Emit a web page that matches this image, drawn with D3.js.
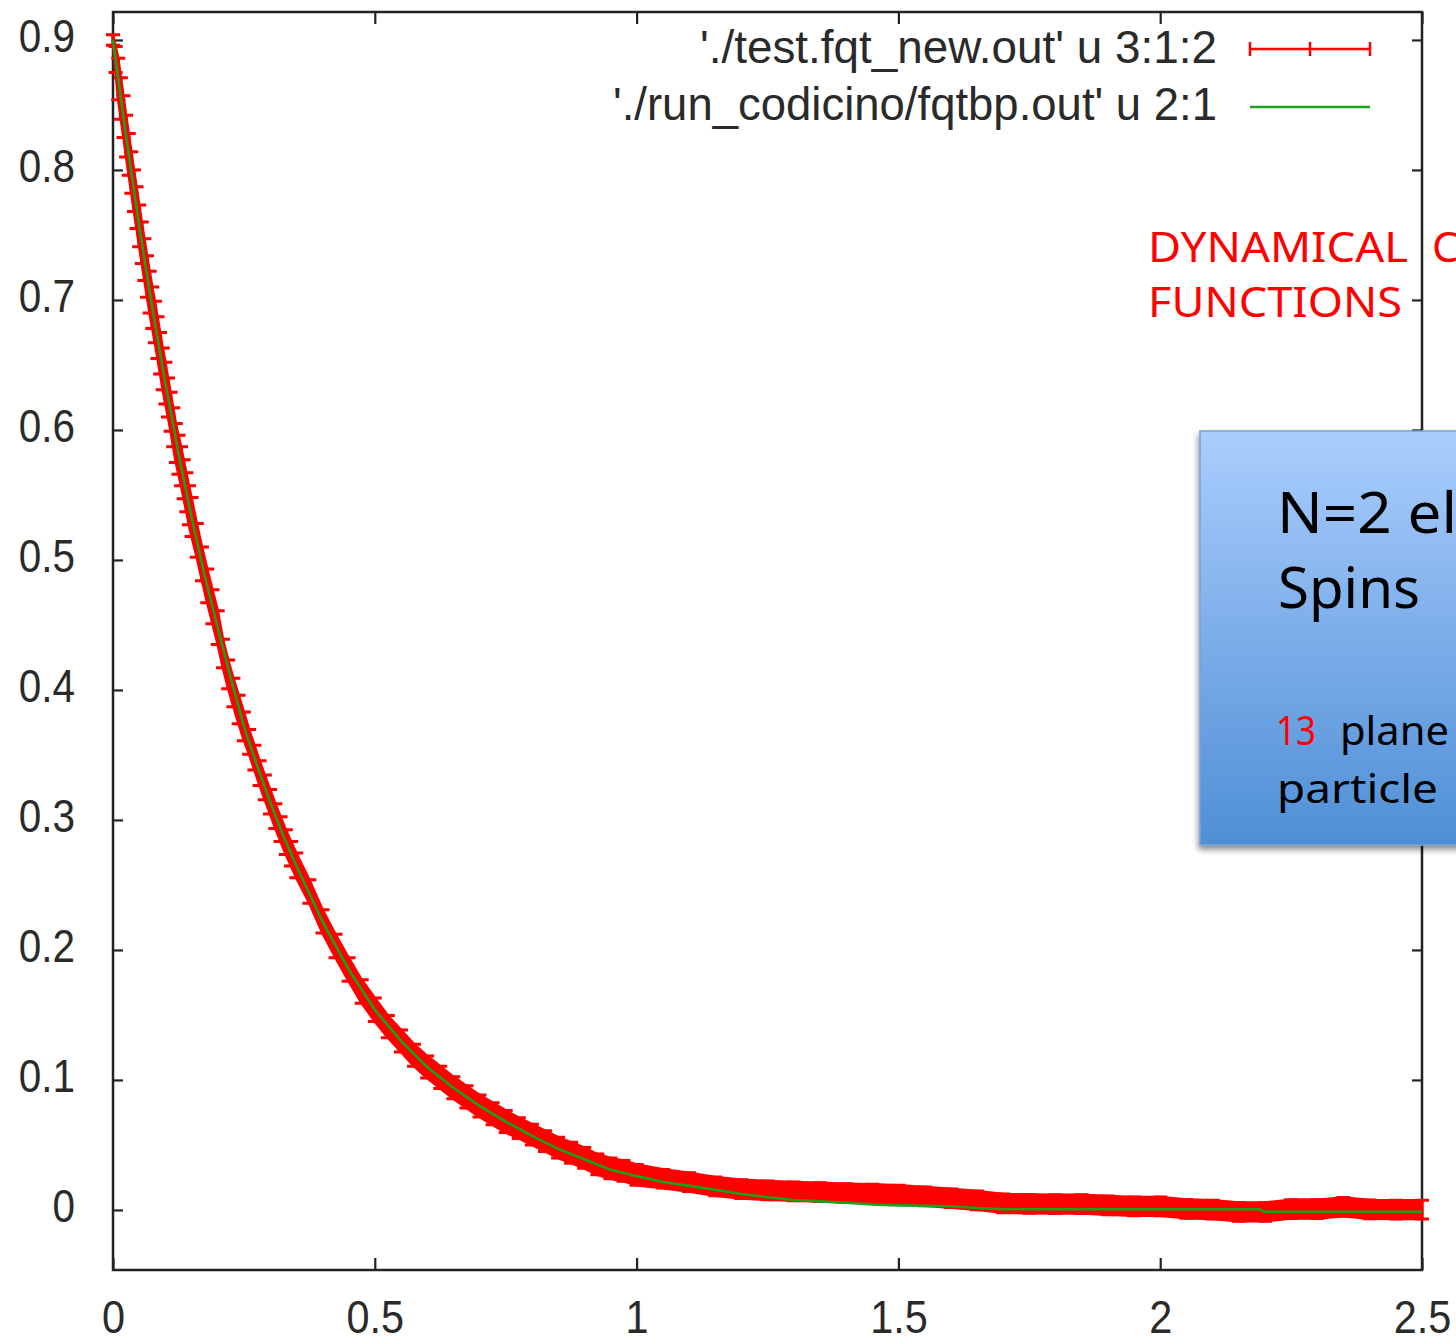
<!DOCTYPE html>
<html><head><meta charset="utf-8">
<script src="https://cdn.jsdelivr.net/npm/d3@7"></script>
<style>body{margin:0;background:#fff;overflow:hidden}svg{display:block}</style>
</head><body>
<script>
// ---------------- data ----------------
const xTicks = [0, 0.5, 1, 1.5, 2, 2.5];
const xTickLabels = ["0", "0.5", "1", "1.5", "2", "2.5"];
const yTicks = [0, 0.1, 0.2, 0.3, 0.4, 0.5, 0.6, 0.7, 0.8, 0.9];
const yTickLabels = ["0", "0.1", "0.2", "0.3", "0.4", "0.5", "0.6", "0.7", "0.8", "0.9"];
const legendLabels = ["'./test.fqt_new.out' u 3:1:2", "'./run_codicino/fqtbp.out' u 2:1"];

// red series: x (col 3), y (col 1), y error (col 2)
const redX = [0,0.005,0.01,0.015,0.02,0.025,0.03,0.035,0.04,0.045,
  0.05,0.055,0.06,0.065,0.07,0.075,0.08,0.085,0.09,0.095,
  0.10,0.105,0.11,0.115,0.12,0.125,0.13,0.135,0.14,0.145,0.15,
  0.16,0.17,0.18,0.19,0.20,0.21,0.22,0.23,0.24,0.25,
  0.26,0.27,0.28,0.29,0.30,0.31,0.32,0.33,0.34,0.35,
  0.375,0.40,0.425,0.45,0.475,0.50,0.525,0.55,0.575,0.60,
  0.625,0.65,0.675,0.70,0.725,0.75,0.775,0.80,0.825,0.85,
  0.875,0.90,0.925,0.95,0.975,1.00,
  1.05,1.10,1.15,1.20,1.25,1.30,1.35,1.40,1.45,1.50,
  1.55,1.60,1.65,1.70,1.75,1.80,1.85,1.90,1.95,2.00,
  2.05,2.10,2.15,2.20,2.25,2.30,2.35,2.40,2.45,2.50];
const redY = [0.900,0.885,0.870,0.855,0.841,0.826,0.812,0.798,0.784,0.771,
  0.757,0.744,0.731,0.718,0.706,0.694,0.683,0.671,0.659,0.647,
  0.636,0.625,0.614,0.602,0.590,0.581,0.572,0.562,0.552,0.542,0.533,
  0.515,0.497,0.480,0.464,0.448,0.428,0.412,0.398,0.385,0.372,
  0.360,0.348,0.336,0.325,0.314,0.303,0.293,0.283,0.274,0.265,
  0.245,0.222,0.203,0.185,0.168,0.154,0.141,0.130,0.119,0.110,
  0.102,0.094,0.087,0.080,0.074,0.068,0.063,0.058,0.053,0.048,
  0.044,0.040,0.035,0.032,0.030,0.027,
  0.0240,0.0214,0.0182,0.0160,0.0150,0.0143,0.0137,0.0130,0.0125,0.0118,
  0.0105,0.0090,0.0073,0.0051,0.0047,0.0045,0.0045,0.0035,0.0028,0.0028,
  0.0008,0.0003,-0.0015,-0.0015,0.0007,0.0007,0.0024,0.0005,0.0003,0.0003];
const redErr = [0.004,0.010,0.016,0.016,0.016,0.016,0.016,0.016,0.016,0.016,
  0.016,0.016,0.016,0.016,0.016,0.016,0.016,0.016,0.016,0.016,
  0.016,0.015,0.015,0.015,0.015,0.015,0.015,0.015,0.015,0.015,0.015,
  0.013,0.013,0.013,0.013,0.013,0.011,0.011,0.011,0.011,0.011,
  0.0095,0.0095,0.0095,0.0095,0.0095,0.0095,0.0095,0.0095,0.0095,0.0095,
  0.009,0.009,0.009,0.009,0.009,0.009,0.0085,0.0085,0.0085,0.0085,
  0.0085,0.0085,0.0085,0.0085,0.0085,0.0085,0.008,0.008,0.008,0.008,
  0.008,0.008,0.008,0.008,0.008,0.008,
  0.0072,0.0072,0.0072,0.0072,0.0072,0.0072,0.0072,0.0072,0.0072,0.0072,
  0.0072,0.0072,0.0072,0.0072,0.0072,0.0072,0.0072,0.0072,0.0072,0.0072,
  0.0072,0.0072,0.0072,0.0072,0.0072,0.0072,0.0072,0.0072,0.0072,0.0072];

// green series: x (col 2), y (col 1)
const greenX = [0,0.025,0.05,0.075,0.10,0.125,0.15,0.175,0.20,0.225,
  0.25,0.275,0.30,0.325,0.35,0.40,0.45,0.50,0.55,0.60,
  0.65,0.70,0.75,0.80,0.85,0.90,0.95,1.00,1.05,1.10,
  1.15,1.20,1.25,1.30,1.35,1.40,1.45,1.50,1.60,1.65,
  1.70,2.19,2.20,2.50];
const greenY = [0.900,0.826,0.757,0.694,0.636,0.582,0.533,0.488,0.448,0.409,
  0.372,0.342,0.314,0.288,0.265,0.222,0.185,0.154,0.130,0.110,
  0.094,0.080,0.068,0.057,0.047,0.039,0.031,0.026,0.0215,0.0185,
  0.0155,0.0122,0.0098,0.0077,0.0066,0.0055,0.0042,0.0035,0.0028,0.0015,
  0.0005,0.0005,-0.0015,-0.0015];

const noteLines1 = ["DYNAMICAL", "C", "FUNCTIONS"];
const boxLines = ["N=2 el", "Spins", "13", "plane", "particle"];

// ---------------- drawing ----------------
const W = 1456, H = 1342;
const L = 113, R = 1422, T = 12, B = 1270;
const svg = d3.select("body").append("svg").attr("width", W).attr("height", H);
const x = d3.scaleLinear().domain([0, 2.5]).range([L, R]);
const y = d3.scaleLinear().domain([-0.0462, 0.9215]).range([B, T]);
const tickFont = "'Liberation Sans', Arial, sans-serif";
const inkColor = "#222";

function styleAxis(g) {
  g.select(".domain").remove();
  g.selectAll(".tick line").attr("stroke", inkColor).attr("stroke-width", 2.2);
  g.selectAll("text").attr("font-family", tickFont).attr("font-size", 46).attr("fill", "#2a2a2a");
}
function condense(sel, k) {
  sel.each(function () {
    const w = this.getComputedTextLength();
    d3.select(this).attr("textLength", w * k).attr("lengthAdjust", "spacingAndGlyphs");
  });
}

const gx = svg.append("g").attr("transform", `translate(0,${B})`)
  .call(d3.axisBottom(x).tickValues(xTicks).tickFormat((d, i) => xTickLabels[i])
    .tickSizeInner(-12).tickSizeOuter(0).tickPadding(30));
styleAxis(gx);
condense(gx.selectAll("text"), 0.9);

const gy = svg.append("g").attr("transform", `translate(${L},0)`)
  .call(d3.axisLeft(y).tickValues(yTicks).tickFormat((d, i) => yTickLabels[i])
    .tickSizeInner(-10).tickSizeOuter(0).tickPadding(38));
styleAxis(gy);
gy.selectAll("text").attr("dy", "0.26em");
condense(gy.selectAll("text"), 0.88);

const gt = svg.append("g").attr("transform", `translate(0,${T})`)
  .call(d3.axisTop(x).tickValues(xTicks).tickFormat("").tickSizeInner(-12).tickSizeOuter(0));
styleAxis(gt);
const gr = svg.append("g").attr("transform", `translate(${R},0)`)
  .call(d3.axisRight(y).tickValues(yTicks).tickFormat("").tickSizeInner(-10).tickSizeOuter(0));
styleAxis(gr);

svg.append("rect").attr("x", L).attr("y", T).attr("width", R - L).attr("height", B - T)
  .attr("fill", "none").attr("stroke", inkColor).attr("stroke-width", 2.5);

// red error-bar series
const red = redX.map((d, i) => ({ x: d, y: redY[i], e: redErr[i] }));
svg.append("path").datum(red).attr("fill", "#ff0000").attr("stroke", "#ff0000").attr("stroke-width", 2.6)
  .attr("stroke-linejoin", "round")
  .attr("d", d3.area().x(d => x(d.x)).y0(d => y(d.y - d.e)).y1(d => y(d.y + d.e)));
const cap = 7;
svg.append("g").selectAll("path").data(red).join("path")
  .attr("fill", "none").attr("stroke", "#ff0000").attr("stroke-width", 3)
  .attr("d", d => {
    const px = x(d.x), lo = y(d.y - d.e), hi = y(d.y + d.e);
    return `M${px},${lo}V${hi}M${px - cap},${hi}h${2 * cap}M${px - cap},${lo}h${2 * cap}`;
  });

// green line
const green = greenX.map((d, i) => ({ x: d, y: greenY[i] }));
svg.append("path").datum(green).attr("fill", "none").attr("stroke", "#17a317").attr("stroke-width", 2.6)
  .attr("d", d3.line().x(d => x(d.x)).y(d => y(d.y)));

// legend
const legendRight = 1217, legendW = [517, 604], legendBase = [63, 120], legendMid = [49, 107];
legendLabels.forEach((t, i) => {
  svg.append("text").attr("x", legendRight - legendW[i]).attr("y", legendBase[i])
    .attr("font-family", tickFont).attr("font-size", 46).attr("fill", "#2a2a2a")
    .attr("textLength", legendW[i]).attr("lengthAdjust", "spacingAndGlyphs").text(t);
});
svg.append("path").attr("fill", "none").attr("stroke", "#ff0000").attr("stroke-width", 2.5)
  .attr("d", `M1250,${legendMid[0]}H1370M1250,${legendMid[0] - 7}v14M1370,${legendMid[0] - 7}v14M1310,${legendMid[0] - 7}v14`);
svg.append("path").attr("fill", "none").attr("stroke", "#1aa51a").attr("stroke-width", 2.5)
  .attr("d", `M1250,${legendMid[1]}H1370`);

// red annotation
const noteFont = "'Noto Sans', 'Open Sans', sans-serif";
const n1 = svg.append("text").attr("font-family", noteFont).attr("font-size", 42).attr("fill", "#ff0000");
n1.append("tspan").attr("x", 1148).attr("y", 262).attr("textLength", 260).attr("lengthAdjust", "spacingAndGlyphs").text(noteLines1[0]);
n1.append("tspan").attr("x", 1432).attr("y", 262).text(noteLines1[1]);
svg.append("text").attr("font-family", noteFont).attr("font-size", 42).attr("fill", "#ff0000")
  .attr("x", 1148).attr("y", 317).attr("textLength", 254).attr("lengthAdjust", "spacingAndGlyphs").text(noteLines1[2]);

// blue box
const defs = svg.append("defs");
const lg = defs.append("linearGradient").attr("id", "boxgrad").attr("x1", 0).attr("y1", 0).attr("x2", 0).attr("y2", 1);
lg.append("stop").attr("offset", 0).attr("stop-color", "#aacefd");
lg.append("stop").attr("offset", 0.5).attr("stop-color", "#7cade9");
lg.append("stop").attr("offset", 1).attr("stop-color", "#4f8fd6");
const f = defs.append("filter").attr("id", "shadow").attr("x", "-10%").attr("y", "-10%").attr("width", "130%").attr("height", "130%");
f.append("feDropShadow").attr("dx", -1).attr("dy", 4).attr("stdDeviation", 3).attr("flood-color", "#000").attr("flood-opacity", 0.45);
svg.append("rect").attr("x", 1200).attr("y", 431).attr("width", 300).attr("height", 414)
  .attr("fill", "url(#boxgrad)").attr("stroke", "#7aa0d2").attr("stroke-width", 1.5).attr("filter", "url(#shadow)");

svg.append("text").attr("font-family", noteFont).attr("font-size", 57).attr("fill", "#000")
  .attr("x", 1277).attr("y", 533).attr("textLength", 180).attr("lengthAdjust", "spacingAndGlyphs").text(boxLines[0]);
svg.append("text").attr("font-family", noteFont).attr("font-size", 57).attr("fill", "#000")
  .attr("x", 1278).attr("y", 608).attr("textLength", 142).attr("lengthAdjust", "spacingAndGlyphs").text(boxLines[1]);
const t3 = svg.append("text").attr("font-family", noteFont).attr("font-size", 40).attr("y", 745);
t3.append("tspan").attr("x", 1276).attr("fill", "#ff0000").attr("textLength", 40).attr("lengthAdjust", "spacingAndGlyphs").text(boxLines[2]);
t3.append("tspan").attr("x", 1340).attr("fill", "#000").attr("textLength", 109).attr("lengthAdjust", "spacingAndGlyphs").text(boxLines[3]);
svg.append("text").attr("font-family", noteFont).attr("font-size", 40).attr("fill", "#000")
  .attr("x", 1277).attr("y", 803).attr("textLength", 161).attr("lengthAdjust", "spacingAndGlyphs").text(boxLines[4]);
</script>
</body></html>
